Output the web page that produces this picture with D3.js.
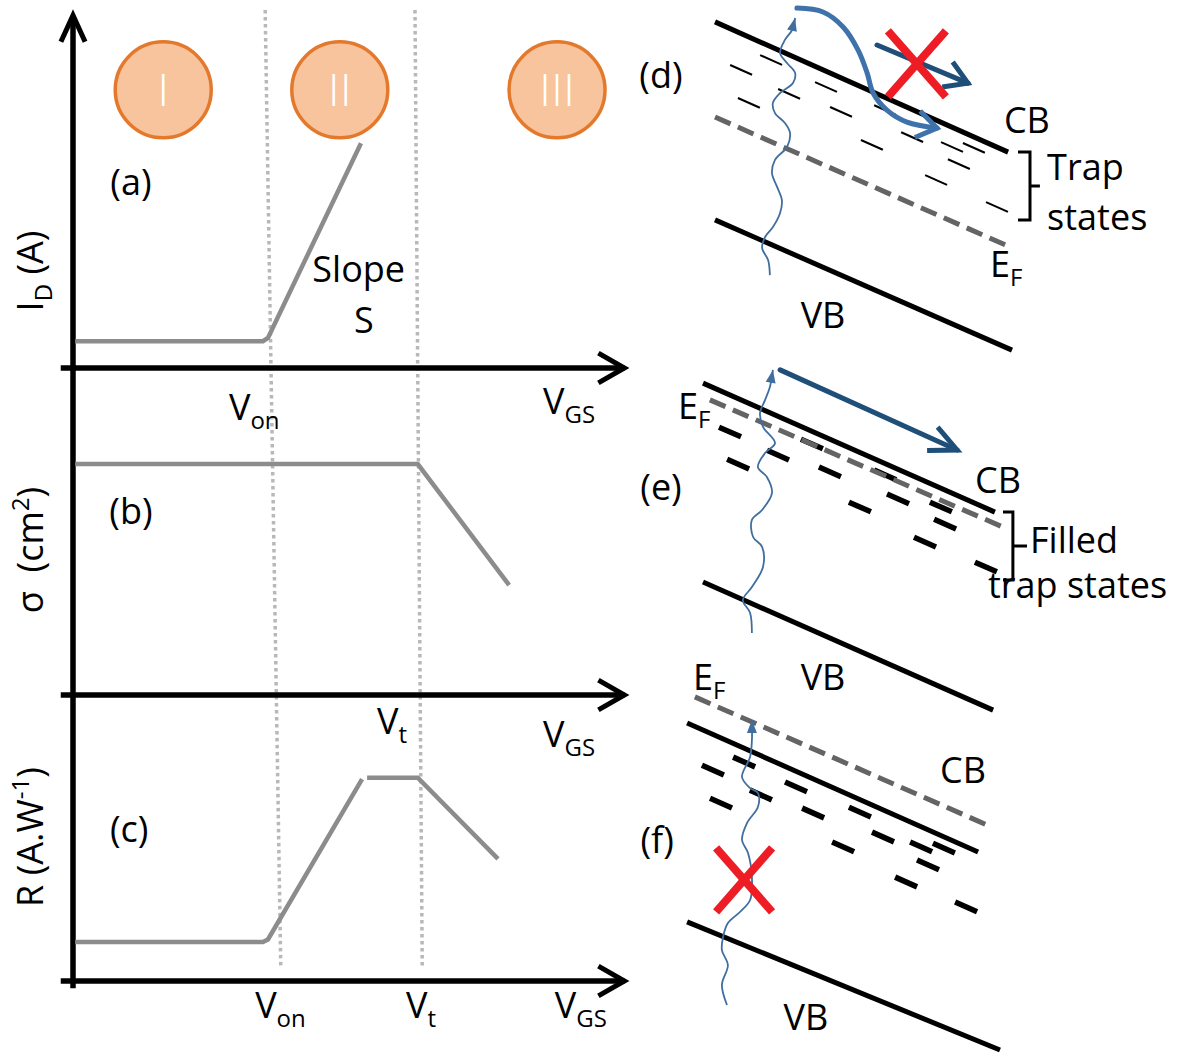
<!DOCTYPE html>
<html>
<head>
<meta charset="utf-8">
<script src="https://cdn.jsdelivr.net/npm/d3@7"></script>
<style>
  body { margin: 0; background: #fff; }
  svg { display: block; }
  text { font-family: "Open Sans", "Noto Sans", sans-serif; fill: #000; }
</style>
</head>
<body>
<svg id="chart" width="1177" height="1057"></svg>
<script>
// ---------- left panels: V_GS in arbitrary units 0..100, each panel y 0..100 ----------
const regions = [
    { label: "I", v: 16.2 },
    { label: "II", v: 47.9 },
    { label: "III", v: 86.9 },
];
const regionLevel = 77.7;

// (a) drain current, (b) cross-section, (c) responsivity
const idCurve = [[0.4, 7.5], [34.1, 7.5], [35.0, 8.4], [51.7, 62.8]];
const sigmaCurve = [[0.4, 64.5], [61.9, 64.5], [78.3, 30.7]];
const respCurveLow = [[0.4, 10.9], [34.1, 10.9], [35.0, 11.6], [51.9, 56.4]];
const respCurveHigh = [[52.8, 56.8], [61.9, 56.8], [76.3, 34.1]];

// dotted guides at V_on and V_t (top, bottom position)
const guides = [[34.5, 37.3], [61.4, 62.7]];

const panelLabels = [
    { p: "a", text: "(a)", v: 10.4, y: 48.3 },
    { p: "b", text: "(b)", v: 10.4, y: 47.8 },
    { p: "c", text: "(c)", v: 10.1, y: 38.8 },
];
const axisLabels = [
    { p: "a", v: 28.0, y: -14.5, main: "V", sub: "on" },
    { p: "a", v: 84.4, y: -12.8, main: "V", sub: "GS" },
    { p: "b", v: 54.6, y: -10.9, main: "V", sub: "t" },
    { p: "b", v: 84.4, y: -14.5, main: "V", sub: "GS" },
    { p: "c", v: 32.7, y: -10.3, main: "V", sub: "on" },
    { p: "c", v: 59.8, y: -10.3, main: "V", sub: "t" },
    { p: "c", v: 86.5, y: -10.3, main: "V", sub: "GS" },
];
const yTitles = [
    { p: "a", y: 27.1, parts: [{ t: "I" }, { t: "D", sub: true }, { t: "\u00a0(A)" }] },
    { p: "b", y: 40.5, parts: [{ t: "\u03c3\u00a0\u00a0(cm" }, { t: "2", sup: true }, { t: ")" }] },
    { p: "c", y: 40.2, parts: [{ t: "R\u00a0(A.W" }, { t: "-1", sup: true }, { t: ")" }] },
];

// ---------- right panels: band diagrams, x 0..100, y 0..100 per panel ----------
const cbD = [[5, 7.3], [102.7, 50.7]];
const efD = [[5, 39], [103.3, 82.3]];
const vbD = [[5, 73.3], [104, 116.7]];
const trapsD = [[23.7, 20], [13.7, 23.3], [42, 29], [29.7, 31.3], [16.3, 34.3], [47, 37.3],
    [61.7, 36.7], [57.3, 48.3], [70.7, 45.7], [84, 49], [91.3, 49.3], [86.3, 54.7], [78.7, 60], [99, 69]];
const photonD = [[23.3, 91.7], [22.7, 86.7], [20.7, 82.7], [21.7, 79], [24.3, 75.7], [26.7, 71],
    [27.3, 66.7], [25.7, 62.3], [24, 57.7], [25, 53.3], [29, 49], [30, 44.3], [28.3, 41], [25, 37.7],
    [24.3, 34.3], [26.7, 31], [31, 27.7], [31.7, 24.3], [29, 21], [26.7, 17.7], [28.3, 13.3],
    [30.7, 10], [31.7, 6]];
const hopD = [[32.3, 2.7], [41, 4], [47.7, 9], [52.7, 16.7], [55.7, 24.3], [57.7, 31],
    [62.3, 36.7], [69, 40.7], [79, 42.7]];
const flowD = [[59, 15], [89.3, 27.7]];
const crossD = [72.3, 21.3];

const cbE = [[1, 7.7], [98.3, 50.7]];
const efE = [[3.3, 13.3], [101.7, 56]];
const vbE = [[1, 74], [97.7, 116.7]];
const trapsE = [[10, 24], [12.7, 34.7], [26, 31.7], [37.3, 28], [43.3, 37.3], [61.7, 38.3],
    [53.3, 49], [66, 46.3], [80.3, 49], [81.7, 54.7], [75, 60.7], [95.3, 69]];
const photonE = [[17.3, 91], [16.7, 84.3], [14.3, 80], [17.3, 75.7], [21, 69], [20.7, 62.3],
    [17.7, 59], [17.3, 53.3], [20.7, 50], [24, 44.3], [22.3, 39], [19.3, 35.7], [21.7, 31],
    [25, 27.7], [21, 22.3], [20, 17.7], [21.7, 13.3], [23.3, 9], [24.3, 3.3]];
const flowE = [[26.7, 3.3], [85.7, 30]];

const efF = [[-1.7, 12.3], [95.7, 55]];
const cbF = [[-4.3, 21], [92.7, 64]];
const vbF = [[-4.3, 87.3], [100, 130]];
const trapsF = [[14.7, 34], [4.3, 36.7], [32, 42.3], [20.3, 45], [7, 47.7], [37.7, 51], [53.3, 50.7],
    [61, 59], [47.7, 62.3], [73.7, 62.3], [81.3, 62.7], [76, 68.3], [68.7, 74], [88.7, 82.3]];
const photonF = [[9, 115], [7.3, 108.3], [9.3, 101.7], [7.3, 96.7], [7.7, 92.3], [9.3, 87.7],
    [13.3, 84], [16.7, 80], [17.3, 72.3], [16, 64.3], [14, 60], [15.7, 54.3], [19.3, 49],
    [19.3, 44.3], [16.7, 42.7], [14, 39], [16.7, 32.3], [17.3, 26.7], [17.3, 20]];
const crossF = [14.7, 73.3];

const bandLabels = [
    { p: "d", u: -13, v: 29.3, parts: [{ t: "(d)" }], anchor: "middle" },
    { p: "d", u: 101.3, v: 44.3, parts: [{ t: "CB" }] },
    { p: "d", u: 115.7, v: 60, parts: [{ t: "Trap" }] },
    { p: "d", u: 115.7, v: 76.7, parts: [{ t: "states" }] },
    { p: "d", u: 96.7, v: 92.3, parts: [{ t: "E" }, { t: "F", sub: true }] },
    { p: "d", u: 41, v: 109.3, parts: [{ t: "VB" }], anchor: "middle" },
    { p: "e", u: -13, v: 46.7, parts: [{ t: "(e)" }], anchor: "middle" },
    { p: "e", u: -7.3, v: 19.7, parts: [{ t: "E" }, { t: "F", sub: true }] },
    { p: "e", u: 91.7, v: 44.3, parts: [{ t: "CB" }] },
    { p: "e", u: 110, v: 64.3, parts: [{ t: "Filled" }] },
    { p: "e", u: 96, v: 79.3, parts: [{ t: "trap states" }] },
    { p: "e", u: 41, v: 110, parts: [{ t: "VB" }], anchor: "middle" },
    { p: "f", u: -14.3, v: 64.3, parts: [{ t: "(f)" }], anchor: "middle" },
    { p: "f", u: -2.3, v: 10, parts: [{ t: "E" }, { t: "F", sub: true }] },
    { p: "f", u: 80, v: 41, parts: [{ t: "CB" }] },
    { p: "f", u: 35.3, v: 123.3, parts: [{ t: "VB" }], anchor: "middle" },
];
// brackets beside the trap-state groups
const brackets = [
    { p: "d", inner: 106, outer: 110, tick: 113.3, top: 50.7, bottom: 73.3 },
    { p: "e", inner: 101, outer: 104.3, tick: 109, top: 50.7, bottom: 73.3 },
];

// ---------- colours ----------
const colors = {
    curve: "#8c8c8c",
    guide: "#b8b8b8",
    circleFill: "#f8c49d",
    circleStroke: "#e4792c",
    ef: "#646464",
    photon: "#3f6e9f",
    hop: "#3f72aa",
    flow: "#1f4e79",
    cross: "#ee1c25",
};

const svg = d3.select("#chart");

// ---------- helpers ----------
const richText = (g, x, y, parts, anchor) => {
    const t = g.append("text")
        .attr("x", x)
        .attr("y", y)
        .attr("font-size", 36)
        .attr("text-anchor", anchor || "start");
    let shift = 0;
    parts.forEach((p) => {
        const target = p.sub ? 9 : p.sup ? -14 : 0;
        t.append("tspan")
            .attr("dy", target - shift)
            .attr("font-size", p.sub || p.sup ? 24 : 36)
            .text(p.t);
        shift = target;
    });
    return t;
};

const chevron = (g, tip, ang, len, spread, color, w) => {
    const pts = [ang + Math.PI - spread, null, ang + Math.PI + spread].map((a) =>
        a === null ? tip : [tip[0] + len * Math.cos(a), tip[1] + len * Math.sin(a)]
    );
    g.append("path")
        .attr("d", d3.line()(pts))
        .attr("fill", "none")
        .attr("stroke", color)
        .attr("stroke-width", w)
        .attr("stroke-linejoin", "miter");
};

// ---------- left panels ----------
const xV = d3.scaleLinear().domain([0, 100]).range([73, 630]);
const yP = {
    a: d3.scaleLinear().domain([0, 100]).range([368, 10]),
    b: d3.scaleLinear().domain([0, 100]).range([695, 337]),
    c: d3.scaleLinear().domain([0, 100]).range([981, 623]),
};

const left = svg.append("g");

// dotted guides
guides.forEach(([top, bottom]) => {
    left.append("line")
        .attr("x1", xV(top))
        .attr("y1", yP.a(100))
        .attr("x2", xV(bottom))
        .attr("y2", yP.c(4))
        .attr("stroke", colors.guide)
        .attr("stroke-width", 3.5)
        .attr("stroke-dasharray", "3.5,3.5");
});

// axes
left.append("line")
    .attr("x1", xV(0)).attr("x2", xV(0))
    .attr("y1", yP.a(98)).attr("y2", yP.c(-2))
    .attr("stroke", "#000").attr("stroke-width", 5.5);
chevron(left, [xV(0), yP.a(98.5)], -Math.PI / 2, 29, 0.43, "#000", 5);

["a", "b", "c"].forEach((p) => {
    left.append("line")
        .attr("x1", xV(-2.2)).attr("x2", xV(99))
        .attr("y1", yP[p](0)).attr("y2", yP[p](0))
        .attr("stroke", "#000").attr("stroke-width", 5.5);
    chevron(left, [xV(99), yP[p](0)], 0, 30, 0.52, "#000", 5);
});

// curves
const lineFor = (p) => d3.line().x((d) => xV(d[0])).y((d) => yP[p](d[1]));
[["a", idCurve], ["b", sigmaCurve], ["c", respCurveLow], ["c", respCurveHigh]].forEach(([p, data]) => {
    left.append("path")
        .attr("d", lineFor(p)(data))
        .attr("fill", "none")
        .attr("stroke", colors.curve)
        .attr("stroke-width", 4.5);
});

// regime circles
regions.forEach((r) => {
    left.append("circle")
        .attr("cx", xV(r.v))
        .attr("cy", yP.a(regionLevel))
        .attr("r", 48)
        .attr("fill", colors.circleFill)
        .attr("stroke", colors.circleStroke)
        .attr("stroke-width", 3.5);
    left.append("text")
        .attr("x", xV(r.v))
        .attr("y", yP.a(regionLevel) + 16)
        .attr("text-anchor", "middle")
        .attr("font-size", 46)
        .style("font-family", "Lato, 'Open Sans', sans-serif")
        .style("font-weight", 300)
        .style("fill", "#fff")
        .text(r.label);
});

panelLabels.forEach((l) => richText(left, xV(l.v), yP[l.p](l.y), [{ t: l.text }], "middle"));
richText(left, xV(51.3), yP.a(24), [{ t: "Slope" }], "middle");
richText(left, xV(52.2), yP.a(9.8), [{ t: "S" }], "middle");
axisLabels.forEach((l) => richText(left, xV(l.v), yP[l.p](l.y), [{ t: l.main }, { t: l.sub, sub: true }]));

yTitles.forEach((l) => {
    const g = left.append("g").attr("transform", `translate(${xV(-5.4)},${yP[l.p](l.y)}) rotate(-90)`);
    richText(g, 0, 0, l.parts, "middle");
});

// ---------- right panels ----------
const xB = d3.scaleLinear().domain([0, 100]).range([700, 1000]);
const yB = {
    d: d3.scaleLinear().domain([0, 100]).range([0, 300]),
    e: d3.scaleLinear().domain([0, 100]).range([360, 660]),
    f: d3.scaleLinear().domain([0, 100]).range([660, 960]),
};
const right = svg.append("g");

const pt = (p, d) => [xB(d[0]), yB[p](d[1])];

const band = (p, data, color, w, dash) => {
    right.append("path")
        .attr("d", d3.line()(data.map((d) => pt(p, d))))
        .attr("fill", "none")
        .attr("stroke", color)
        .attr("stroke-width", w)
        .attr("stroke-dasharray", dash || null);
};

const traps = (p, data, cb, w) => {
    const a = pt(p, cb[0]), b = pt(p, cb[1]);
    const ang = Math.atan2(b[1] - a[1], b[0] - a[0]);
    const hx = 12 * Math.cos(ang), hy = 12 * Math.sin(ang);
    right.append("g")
        .selectAll("line")
        .data(data)
        .join("line")
        .attr("x1", (d) => pt(p, d)[0] - hx)
        .attr("y1", (d) => pt(p, d)[1] - hy)
        .attr("x2", (d) => pt(p, d)[0] + hx)
        .attr("y2", (d) => pt(p, d)[1] + hy)
        .attr("stroke", "#000")
        .attr("stroke-width", w);
};

const photon = (p, data) => {
    const pts = data.map((d) => pt(p, d));
    right.append("path")
        .attr("d", d3.line().curve(d3.curveCatmullRom)(pts))
        .attr("fill", "none")
        .attr("stroke", colors.photon)
        .attr("stroke-width", 1.8);
    const tip = pts[pts.length - 1], prev = pts[pts.length - 2];
    const ang = Math.atan2(tip[1] - prev[1], tip[0] - prev[0]);
    const base = [tip[0] - 13 * Math.cos(ang), tip[1] - 13 * Math.sin(ang)];
    const nx = -Math.sin(ang) * 5, ny = Math.cos(ang) * 5;
    right.append("path")
        .attr("d", d3.line()([tip, [base[0] + nx, base[1] + ny], [base[0] - nx, base[1] - ny]]) + "Z")
        .attr("fill", colors.photon);
};

const arrow = (p, data, color, w, curved, headLen, spread) => {
    const pts = data.map((d) => pt(p, d));
    const gen = curved ? d3.line().curve(d3.curveCatmullRom) : d3.line();
    right.append("path")
        .attr("d", gen(pts))
        .attr("fill", "none")
        .attr("stroke", color)
        .attr("stroke-width", w)
        .attr("stroke-linecap", "round");
    const tip = pts[pts.length - 1], prev = pts[pts.length - 2];
    chevron(right, tip, Math.atan2(tip[1] - prev[1], tip[0] - prev[0]), headLen, spread, color, w);
};

const cross = (p, c, hw, hh) => {
    const [cx, cy] = pt(p, c);
    [[-1, -1, 1, 1], [1, -1, -1, 1]].forEach(([a, b, e, f]) => {
        right.append("line")
            .attr("x1", cx + a * hw).attr("y1", cy + b * hh)
            .attr("x2", cx + e * hw).attr("y2", cy + f * hh)
            .attr("stroke", colors.cross)
            .attr("stroke-width", 8);
    });
};

// (d)
traps("d", trapsD, cbD, 2);
band("d", efD, colors.ef, 5, "17,8");
band("d", cbD, "#000", 5);
band("d", vbD, "#000", 5);
photon("d", photonD);
arrow("d", hopD, colors.hop, 5, true, 24, 0.6);
arrow("d", flowD, colors.flow, 5, false, 26, 0.55);
cross("d", crossD, 29, 33);

// (e)
traps("e", trapsE, cbE, 5.5);
band("e", efE, colors.ef, 5, "17,8");
band("e", cbE, "#000", 5);
band("e", vbE, "#000", 5);
photon("e", photonE);
arrow("e", flowE, colors.flow, 5, false, 30, 0.44);

// (f)
band("f", efF, colors.ef, 5, "17,8");
band("f", cbF, "#000", 5);
traps("f", trapsF, cbF, 5.5);
band("f", vbF, "#000", 5);
photon("f", photonF);
cross("f", crossF, 28, 32);

// brackets
brackets.forEach((b) => {
    const ys = yB[b.p];
    right.append("path")
        .attr("d", d3.line()([[xB(b.inner), ys(b.top)], [xB(b.outer), ys(b.top)], [xB(b.outer), ys(b.bottom)], [xB(b.inner), ys(b.bottom)]]))
        .attr("fill", "none").attr("stroke", "#000").attr("stroke-width", 3);
    const mid = (ys(b.top) + ys(b.bottom)) / 2;
    right.append("line")
        .attr("x1", xB(b.outer)).attr("x2", xB(b.tick))
        .attr("y1", mid).attr("y2", mid)
        .attr("stroke", "#000").attr("stroke-width", 3);
});

bandLabels.forEach((l) => richText(right, xB(l.u), yB[l.p](l.v), l.parts, l.anchor));
</script>
</body>
</html>
